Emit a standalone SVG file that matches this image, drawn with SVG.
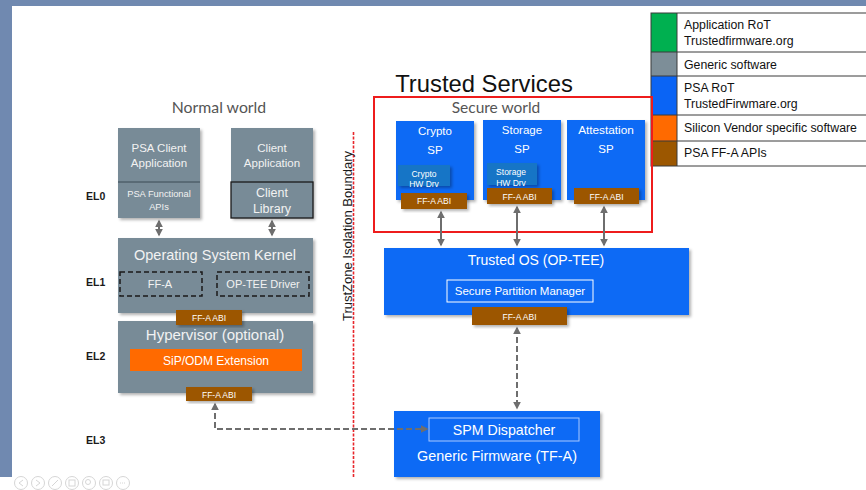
<svg xmlns="http://www.w3.org/2000/svg" width="866" height="490" viewBox="0 0 866 490">
<style>
.sans{font-family:"Liberation Sans",Arial,sans-serif}
.gill{font-family:Lato,"Liberation Sans",sans-serif}
.w{fill:#ffffff}
.lt{fill:#f2f2f2}
.gray{fill:#788b97}
.blue{fill:#0b6af5}
.brown{fill:#9c5700}
.lg{font-family:"Liberation Sans",Arial,sans-serif;font-size:12.3px;fill:#111}
.el{font-family:"Liberation Sans",Arial,sans-serif;font-size:10.5px;fill:#1a1a1a;font-weight:bold}
.sol{stroke:#6e6e6e;stroke-width:2;fill:none;marker-start:url(#ah);marker-end:url(#ah)}
.dsh{stroke:#6e6e6e;stroke-width:2;fill:none;stroke-dasharray:6 3;marker-start:url(#ah);marker-end:url(#ah)}
.kd{fill:none;stroke:#1a1a1a;stroke-width:1.5;stroke-dasharray:5 3}
.ic{fill:none;stroke:#d6d6d6;stroke-width:1}
</style>
<defs>
<filter id="sh" x="-10%" y="-10%" width="125%" height="130%">
<feDropShadow dx="2" dy="2" stdDeviation="1.5" flood-color="#000" flood-opacity="0.3"/>
</filter>
<marker id="ah" viewBox="0 0 10 10" refX="8" refY="5" markerWidth="4" markerHeight="4" orient="auto-start-reverse">
<path d="M0,0 L10,5 L0,10 z" fill="#6e6e6e"/>
</marker>
</defs>
<rect width="866" height="490" fill="#ffffff"/>
<rect x="0" y="0" width="866" height="6" fill="#7089b0"/>
<rect x="0" y="0" width="12" height="477" fill="#7089b0"/>

<g id="legend">
<rect x="651" y="13" width="26" height="39" fill="#00b050"/>
<rect x="651" y="52" width="26" height="24" fill="#7d8e98"/>
<rect x="651" y="76" width="26" height="39" fill="#0a64f5"/>
<rect x="651" y="115" width="26" height="26" fill="#ff6a00"/>
<rect x="651" y="141" width="26" height="25" fill="#9c5700"/>
<g stroke="#3a3a3a" stroke-width="1" fill="none">
<rect x="651" y="13" width="230" height="153"/>
<line x1="677" y1="13" x2="677" y2="166"/>
<line x1="651" y1="52" x2="866" y2="52"/>
<line x1="651" y1="76" x2="866" y2="76"/>
<line x1="651" y1="115" x2="866" y2="115"/>
<line x1="651" y1="141" x2="866" y2="141"/>
</g>
<text class="lg" x="684" y="29">Application RoT</text>
<text class="lg" x="684" y="45">Trustedfirmware.org</text>
<text class="lg" x="684" y="69">Generic software</text>
<text class="lg" x="684" y="92">PSA RoT</text>
<text class="lg" x="684" y="108">TrustedFirwmare.org</text>
<text class="lg" x="684" y="132">Silicon Vendor specific software</text>
<text class="lg" x="684" y="157">PSA FF-A APIs</text>
</g>

<g id="titles">
<text class="sans" x="484" y="92" font-size="23.8" fill="#111" text-anchor="middle">Trusted Services</text>
<text class="gill" x="219" y="113" font-size="15.8" fill="#555555" text-anchor="middle">Normal world</text>
<text class="el" x="86" y="200">EL0</text>
<text class="el" x="86" y="286">EL1</text>
<text class="el" x="86" y="360">EL2</text>
<text class="el" x="86" y="444">EL3</text>
</g>

<g id="boundary">
<line x1="353.5" y1="132" x2="353.5" y2="478" stroke="#e8262b" stroke-width="1.6" stroke-dasharray="3 1.5"/>
<text class="sans" transform="translate(352,236) rotate(-90)" font-size="13" fill="#1a1a1a" text-anchor="middle">TrustZone Isolation Boundary</text>
</g>

<g id="secure-world">
<rect x="374" y="97" width="278" height="135" fill="none" stroke="#ee1c1c" stroke-width="2"/>
<text class="gill" x="496" y="113" font-size="15.5" fill="#555555" text-anchor="middle">Secure world</text>
</g>

<g id="crypto-sp">
<rect class="blue" x="396" y="121" width="78" height="79" filter="url(#sh)"/>
<text class="sans w" x="435" y="135" font-size="11.5" text-anchor="middle">Crypto</text>
<text class="sans w" x="435" y="154" font-size="11.5" text-anchor="middle">SP</text>
<rect x="398" y="165" width="52" height="21" fill="#1274c6" filter="url(#sh)"/>
<text class="sans w" x="424" y="177" font-size="8.5" text-anchor="middle">Crypto</text>
<text class="sans w" x="424" y="187" font-size="8.5" text-anchor="middle">HW Drv</text>
<rect class="brown" x="401" y="193" width="66" height="16" filter="url(#sh)"/>
<text class="sans w" x="434" y="204" font-size="8.5" text-anchor="middle">FF-A ABI</text>
</g>

<g id="storage-sp">
<rect class="blue" x="483" y="120" width="78" height="80" filter="url(#sh)"/>
<text class="sans w" x="522" y="134" font-size="11.5" text-anchor="middle">Storage</text>
<text class="sans w" x="522" y="153" font-size="11.5" text-anchor="middle">SP</text>
<rect x="487" y="163" width="50" height="22" fill="#1274c6" filter="url(#sh)"/>
<text class="sans w" x="511" y="175" font-size="8.5" text-anchor="middle">Storage</text>
<text class="sans w" x="511" y="186" font-size="8.5" text-anchor="middle">HW Drv</text>
<rect class="brown" x="487" y="188" width="65" height="16" filter="url(#sh)"/>
<text class="sans w" x="519.5" y="199.5" font-size="8.5" text-anchor="middle">FF-A ABI</text>
</g>

<g id="attestation-sp">
<rect class="blue" x="567" y="120" width="78" height="80" filter="url(#sh)"/>
<text class="sans w" x="606" y="134" font-size="11.8" text-anchor="middle">Attestation</text>
<text class="sans w" x="606" y="153" font-size="11.5" text-anchor="middle">SP</text>
<rect class="brown" x="574" y="188" width="65" height="16" filter="url(#sh)"/>
<text class="sans w" x="606.5" y="199.5" font-size="8.5" text-anchor="middle">FF-A ABI</text>
</g>

<g id="trusted-os">
<rect class="blue" x="384" y="248" width="305" height="67" filter="url(#sh)"/>
<text class="sans w" x="536" y="265" font-size="14" text-anchor="middle">Trusted OS (OP-TEE)</text>
<rect x="447" y="280" width="146" height="22" fill="none" stroke="#ffffff" stroke-width="1"/>
<text class="sans w" x="520" y="295" font-size="11.5" text-anchor="middle">Secure Partition Manager</text>
<rect class="brown" x="472" y="307" width="95" height="18" filter="url(#sh)"/>
<text class="sans w" x="519.5" y="319.5" font-size="8.5" text-anchor="middle">FF-A ABI</text>
</g>

<g id="generic-firmware">
<rect class="blue" x="394" y="411" width="206" height="66" filter="url(#sh)"/>
<rect x="429" y="418" width="150" height="23" fill="none" stroke="#a9c8ff" stroke-width="1"/>
<text class="sans w" x="504" y="435" font-size="14.2" text-anchor="middle">SPM Dispatcher</text>
<text class="sans w" x="497" y="461" font-size="14.4" text-anchor="middle">Generic Firmware (TF-A)</text>
</g>

<g id="psa-client-app">
<rect class="gray" x="118" y="128" width="82" height="90" filter="url(#sh)"/>
<line x1="118" y1="182" x2="200" y2="182" stroke="#3b4a54" stroke-width="1"/>
<text class="sans lt" x="159" y="152" font-size="11.5" text-anchor="middle">PSA Client</text>
<text class="sans lt" x="159" y="167" font-size="11.5" text-anchor="middle">Application</text>
<text class="sans lt" x="159" y="197" font-size="9.3" text-anchor="middle">PSA Functional</text>
<text class="sans lt" x="159" y="210" font-size="9.3" text-anchor="middle">APIs</text>
</g>

<g id="client-app">
<rect class="gray" x="231" y="128" width="82" height="90" filter="url(#sh)"/>
<rect x="231" y="182" width="82" height="36" fill="none" stroke="#1a1a1a" stroke-width="1.3"/>
<text class="sans lt" x="272" y="152" font-size="11.5" text-anchor="middle">Client</text>
<text class="sans lt" x="272" y="167" font-size="11.5" text-anchor="middle">Application</text>
<text class="sans lt" x="272" y="197" font-size="12.5" text-anchor="middle">Client</text>
<text class="sans lt" x="272" y="213" font-size="12.5" text-anchor="middle">Library</text>
</g>

<g id="os-kernel">
<rect class="gray" x="118" y="238" width="195" height="75" filter="url(#sh)"/>
<text class="sans lt" x="215" y="260" font-size="14.5" text-anchor="middle">Operating System Kernel</text>
<rect class="kd" x="120" y="272" width="82" height="24"/>
<text class="sans lt" x="160" y="288" font-size="11" text-anchor="middle">FF-A</text>
<rect class="kd" x="217" y="272" width="92" height="24"/>
<text class="sans lt" x="263" y="288" font-size="11" text-anchor="middle">OP-TEE Driver</text>
</g>

<g id="hypervisor">
<rect class="gray" x="118" y="321" width="195" height="72" filter="url(#sh)"/>
<text class="sans lt" x="215" y="340" font-size="15" text-anchor="middle">Hypervisor (optional)</text>
<rect x="130" y="349" width="172" height="22" fill="#ff6a00"/>
<text class="sans w" x="216" y="365" font-size="12" text-anchor="middle">SiP/ODM Extension</text>
</g>

<g id="kernel-ffa-abi">
<rect class="brown" x="176" y="310" width="66" height="15" filter="url(#sh)"/>
<text class="sans w" x="209" y="321" font-size="8.5" text-anchor="middle">FF-A ABI</text>
</g>

<g id="hyp-ffa-abi">
<rect class="brown" x="186" y="387" width="66" height="14" filter="url(#sh)"/>
<text class="sans w" x="219" y="397.5" font-size="8.5" text-anchor="middle">FF-A ABI</text>
</g>

<g id="connectors">
<line class="sol" x1="159" y1="221" x2="159" y2="235"/>
<line class="sol" x1="272" y1="221" x2="272" y2="235"/>
<line class="sol" x1="441" y1="212" x2="441" y2="245"/>
<line class="sol" x1="517" y1="207" x2="517" y2="245"/>
<line class="sol" x1="604" y1="207" x2="604" y2="245"/>
<line class="dsh" x1="517" y1="328" x2="517" y2="408"/>
<path class="dsh" d="M215,404 V429 H427"/>
</g>

<g id="viewer-controls">
<circle class="ic" cx="21" cy="483" r="6.5"/>
<path d="M23,480 L19,483 L23,486" class="ic"/>
<circle class="ic" cx="38" cy="483" r="6.5"/>
<path d="M36,480 L40,483 L36,486" class="ic"/>
<circle class="ic" cx="55" cy="483" r="6.5"/>
<line x1="52" y1="486" x2="58" y2="480" class="ic"/>
<circle class="ic" cx="72" cy="483" r="6.5"/>
<rect x="69" y="480" width="6" height="6" class="ic"/>
<circle class="ic" cx="89" cy="483" r="6.5"/>
<circle cx="88" cy="482" r="2.5" class="ic"/>
<circle class="ic" cx="106" cy="483" r="6.5"/>
<rect x="103" y="480" width="6" height="5" class="ic"/>
<circle class="ic" cx="123" cy="483" r="6.5"/>
<path d="M120,483 h6" class="ic" stroke-dasharray="1 1"/>
</g>
</svg>
